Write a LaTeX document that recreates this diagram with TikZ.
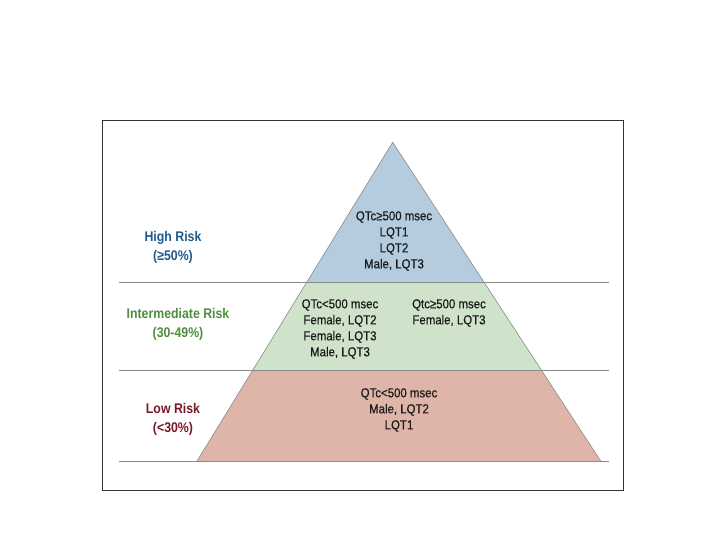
\documentclass[tikz,border=0pt]{standalone}
\usepackage{fontspec}
\usetikzlibrary{calc}
\setmainfont{Liberation Sans}[FakeStretch=0.88]
\newfontfamily\bodyfont{Liberation Sans}[FakeStretch=0.88,FakeBold=0.4]
\definecolor{hiblue}{HTML}{B4CCDE}
\definecolor{midgreen}{HTML}{CEE3C9}
\definecolor{lowred}{HTML}{DFB5A9}
\definecolor{hitext}{HTML}{1E5B8C}
\definecolor{midtext}{HTML}{4F8E3F}
\definecolor{lowtext}{HTML}{7B1828}
\definecolor{edgegray}{HTML}{8A8A8A}
\definecolor{txt}{HTML}{1A1A1A}
\begin{document}
\begin{tikzpicture}[x=1pt,y=-1pt,
  bodytext/.style={align=center,font=\bodyfont\fontsize{13}{16}\selectfont,text=txt,inner sep=0pt},
  risklabel/.style={align=center,font=\fontsize{14}{19}\selectfont\bfseries,inner sep=0pt},
  divider/.style={draw=edgegray,line width=0.8pt}]
\useasboundingbox (0,0) rectangle (720,540);
\fill[white] (0,0) rectangle (720,540);
% pyramid tiers
\coordinate (apex) at (392.7,142.3);
\coordinate (bl) at (196.7,461.5);
\coordinate (br) at (601,461.5);
\coordinate (l1) at ($(apex)!0.4377!(bl)$);
\coordinate (r1) at ($(apex)!0.4377!(br)$);
\coordinate (l2) at ($(apex)!0.7133!(bl)$);
\coordinate (r2) at ($(apex)!0.7133!(br)$);
\fill[lowred] (bl) -- (br) -- (r2) -- (l2) -- cycle;
\fill[midgreen] (l2) -- (r2) -- (r1) -- (l1) -- cycle;
\fill[hiblue] (l1) -- (r1) -- (apex) -- cycle;
\draw[edgegray,line width=0.6pt] (bl) -- (apex) -- (br);
% dividers
\coordinate (d1l) at (119,282); \coordinate (d1r) at (609,282);
\coordinate (d2l) at (119,370); \coordinate (d2r) at (609,370);
\coordinate (d3l) at (119,461.5); \coordinate (d3r) at (609,461.5);
\draw[divider] (d1l) -- (d1r);
\draw[divider] (d2l) -- (d2r);
\draw[divider] (d3l) -- (d3r);
% frame
\draw[black!80,line width=1pt] (102.7,120.7) rectangle (623.7,490.7);
% texts
\node[bodytext] (hitxt) at (394,241) {QTc≥500 msec\\LQT1\\LQT2\\Male, LQT3};
\node[bodytext] (midl) at (340,329) {QTc<500 msec\\Female, LQT2\\Female, LQT3\\Male, LQT3};
\node[bodytext] (midr) at (449,313) {Qtc≥500 msec\\Female, LQT3};
\node[bodytext] (lowtxt) at (399,410) {QTc<500 msec\\Male, LQT2\\LQT1};
\node[risklabel,text=hitext] (hilab) at (173,247.5) {High Risk\\(≥50\%)};
\node[risklabel,text=midtext] (midlab) at (178,324.5) {Intermediate Risk\\(30-49\%)};
\node[risklabel,text=lowtext] (lowlab) at (173,419.5) {Low Risk\\(<30\%)};
\end{tikzpicture}
\end{document}
